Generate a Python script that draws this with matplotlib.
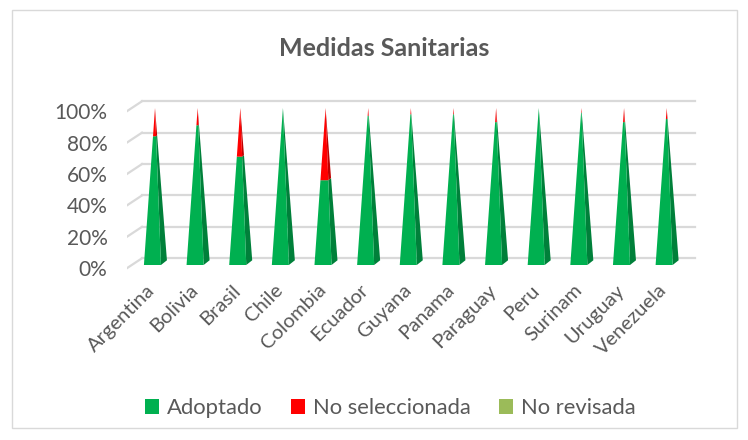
import matplotlib.pyplot as plt
from matplotlib.patches import Patch, Rectangle

# data
countries = ["Argentina", "Bolivia", "Brasil", "Chile", "Colombia", "Ecuador", "Guyana",
             "Panama", "Paraguay", "Peru", "Surinam", "Uruguay", "Venezuela"]
adoptado = [82, 89, 69, 100, 54, 95, 96, 96, 91, 100, 97, 91, 93]
no_seleccionada = [18, 11, 31, 0, 46, 5, 4, 4, 9, 0, 3, 9, 7]
no_revisada = [0, 0, 0, 0, 0, 0, 0, 0, 0, 0, 0, 0, 0]
y_ticks = [0, 20, 40, 60, 80, 100]

series = [("Adoptado", adoptado, "#00B050", "#00803A"),
          ("No seleccionada", no_seleccionada, "#FF0000", "#C00000"),
          ("No revisada", no_revisada, "#9BBB59", "#76923C")]

plt.rcParams['font.family'] = ['Lato', 'DejaVu Sans']
text_col = "#595959"
grid_col = "#D9D9D9"

W, H = 748, 440
fig = plt.figure(figsize=(W / 100, H / 100), dpi=100)

# chart border
fig.patches.append(Rectangle((12 / W, 12 / H), 725 / W, 418 / H, transform=fig.transFigure,
                             fill=False, edgecolor=grid_col, linewidth=1))

# axes placed in pixels: category 0 at x=155, step 42.64 px; 0% at y=265, 100% at y=108
step = 42.64
x_left, x_right = 127, 710
y_top, y_bot = 95, 280
ax = fig.add_axes([x_left / W, (H - y_bot) / H, (x_right - x_left) / W, (y_bot - y_top) / H])
ax.set_xlim((x_left - 155) / step, (x_right - 155) / step)
ax.set_ylim((265 - y_bot) / 157 * 100, (265 - y_top) / 157 * 100)
for s in ax.spines.values():
    s.set_visible(False)

# back wall gridlines + left wall diagonals
x_front = ax.get_xlim()[0]
x_back = (142 - 155) / step
x_end = (695 - 155) / step
for v in y_ticks:
    ax.plot([x_back, x_end], [v + 4.3, v + 4.3], color=grid_col, lw=1.6, zorder=1)
    ax.plot([x_front, x_back], [v - 2, v + 4.3], color=grid_col, lw=1.6, zorder=1)

# pyramids
bl_dx, br_dx, bs_dx, bs_dy = -0.26, 0.14, 0.28, 3
for i in range(len(countries)):
    apex = (i, 100)
    bl = (i + bl_dx, 0)
    br = (i + br_dx, 0)
    bs = (i + bs_dx, bs_dy)

    def on_edge(p, t):
        return (p[0] + t * (apex[0] - p[0]), p[1] + t * (apex[1] - p[1]))

    bottom = 0
    for name, vals, col, dark in series:
        val = vals[i]
        if val <= 0:
            continue
        t0, t1 = bottom / 100, (bottom + val) / 100
        front = [on_edge(bl, t0), on_edge(br, t0), on_edge(br, t1), on_edge(bl, t1)]
        side = [on_edge(br, t0), on_edge(bs, t0), on_edge(bs, t1), on_edge(br, t1)]
        ax.fill([p[0] for p in side], [p[1] for p in side], color=dark, lw=0, zorder=2)
        ax.fill([p[0] for p in front], [p[1] for p in front], color=col, lw=0, zorder=3)
        bottom += val

ax.set_yticks([v - 2 for v in y_ticks])
ax.set_yticklabels([f"{v}%" for v in y_ticks], fontsize=15, color=text_col)
ax.tick_params(axis='y', length=0, pad=14)

ax.set_xticks([i - 0.2 for i in range(len(countries))])
ax.set_xticklabels(countries, rotation=45, ha='right', va='top', rotation_mode='anchor',
                   fontsize=14.5, color=text_col)
ax.tick_params(axis='x', length=0, pad=1)

fig.text(384 / W, (H - 48) / H, "Medidas Sanitarias", ha='center', va='center',
         fontsize=18, fontweight='bold', color=text_col)

handles = [Patch(facecolor=col, edgecolor='none', label=name) for name, vals, col, dark in series]
fig.legend(handles=handles, loc='center', bbox_to_anchor=(390 / W, (H - 408) / H), ncol=3,
           frameon=False, fontsize=15.8, labelcolor=text_col, handlelength=0.65, handleheight=0.65,
           handletextpad=0.35, columnspacing=1.3)

fig.savefig("out.png", dpi=100)
